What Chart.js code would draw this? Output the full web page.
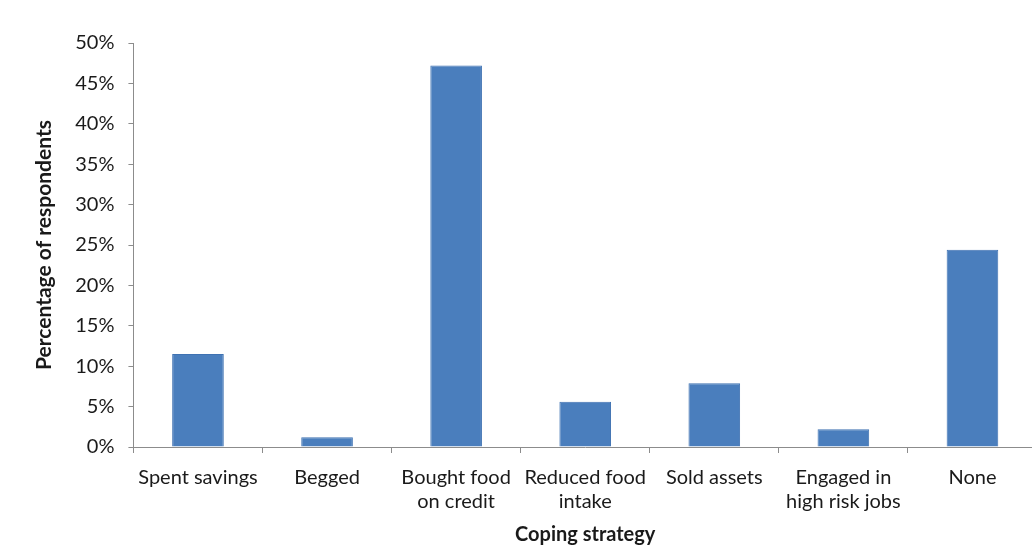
<!DOCTYPE html>
<html>
<head>
<meta charset="utf-8">
<script src="https://cdn.jsdelivr.net/npm/chart.js@4"></script>
<style>
  html, body { margin: 0; padding: 0; background: #fff; overflow: hidden; }
  #caja { width: 1040px; height: 547px; }
</style>
</head>
<body>
<div id="caja"><canvas id="graficaEstrategias"></canvas></div>
<script>
// estrategias de afrontamiento y % de encuestados
var estrategias = ["Spent savings", "Begged", ["Bought food", "on credit"], ["Reduced food", "intake"], "Sold assets", ["Engaged in", "high risk jobs"], "None"];
var porcentajes = [11.5, 1.2, 47.2, 5.6, 7.9, 2.2, 24.4];
var ticksY = [0, 5, 10, 15, 20, 25, 30, 35, 40, 45, 50];

var fuente = "Lato, 'Open Sans', sans-serif";
var azul = "#4a7ebd";

new Chart("graficaEstrategias", {
    type: "bar",
    data: {
        labels: estrategias,
        datasets: [{
            data: porcentajes,
            backgroundColor: azul,
            borderColor: "#3f72b2",
            borderWidth: 1,
            barPercentage: 0.4,
            categoryPercentage: 1
        }]
    },
    options: {
        responsive: true,
        maintainAspectRatio: false,
        animation: false,
        layout: { padding: { left: 32, right: 3, top: 43, bottom: 0 } },
        plugins: {
            legend: { display: false },
            tooltip: { enabled: false }
        },
        scales: {
            x: {
                grid: { display: true, drawOnChartArea: false, drawTicks: true, tickLength: 6, color: "#8c8c8c", offset: true },
                border: { color: "#8c8c8c", width: 1 },
                ticks: { color: "#1a1a1a", font: { family: fuente, size: 20 }, padding: 13, maxRotation: 0, autoSkip: false },
                title: { display: true, text: "Coping strategy", color: "#1a1a1a", font: { family: fuente, size: 20, weight: "bold" }, padding: { top: -4, bottom: 0 } }
            },
            y: {
                min: 0,
                max: 50,
                afterBuildTicks: function (eje) {
                    eje.ticks = ticksY.map(function (v) { return { value: v }; });
                },
                grid: { display: true, drawOnChartArea: false, drawTicks: true, tickLength: 5, color: "#8c8c8c" },
                border: { color: "#8c8c8c", width: 1 },
                ticks: {
                    color: "#1a1a1a",
                    font: { family: fuente, size: 20 },
                    padding: 14,
                    callback: function (v) { return v + "%"; }
                },
                title: { display: true, text: "Percentage of respondents", color: "#1a1a1a", font: { family: fuente, size: 21, weight: "bold" }, padding: { top: 0, bottom: 4 } }
            }
        }
    }
});
</script>
</body>
</html>
